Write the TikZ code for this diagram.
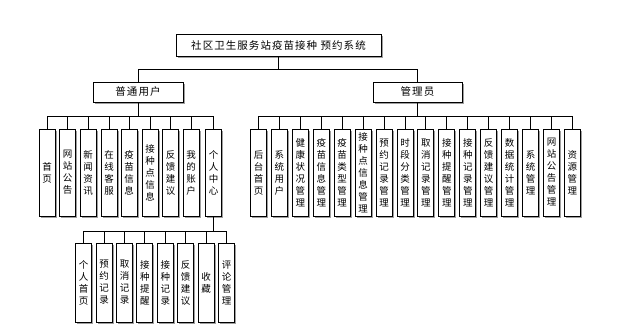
\documentclass[tikz,border=0pt]{standalone}
\usepackage{fontspec}
\newfontfamily\cjk{Noto Sans CJK SC}
\newfontfamily\cjkwide{Noto Sans CJK SC}[LetterSpace=10]
\XeTeXlinebreaklocale "zh"
\XeTeXlinebreakskip=0pt plus 1pt
\usetikzlibrary{shadows}

\begin{document}
\begin{tikzpicture}[
    x=1pt, y=-1pt,
    sysShadowStyle/.style={drop shadow={shadow xshift=1.5pt, shadow yshift=-1.5pt, fill=gray!75, opacity=1}},
    sysBoxStyle/.style={draw, line width=1pt, fill=white, sysShadowStyle, inner sep=0pt,
        minimum height=20pt, font=\cjkwide\fontsize{10.5}{12}\selectfont},
    sysColStyle/.style={draw, line width=1pt, fill=white, sysShadowStyle, inner sep=0pt,
        text width=10pt, align=center, minimum width=16pt, minimum height=87pt,
        font=\cjk\fontsize{9.5}{12}\selectfont},
    sysSubColStyle/.style={sysColStyle, minimum height=79pt},
    sysLinkStyle/.style={line width=1pt}
]
    \useasboundingbox (0,0) rectangle (621,330);

    % --- 顶层 ---
    \node[sysBoxStyle, minimum width=205pt, minimum height=22pt] (sys) at (278.5,45) {社区卫生服务站疫苗接种 预约系统};
    \node[sysBoxStyle, minimum width=90pt] (user) at (138,92) {普通用户};
    \node[sysBoxStyle, minimum width=89pt] (admin) at (417.5,92) {管理员};

    \draw[sysLinkStyle] (sys.south) -- ++(0,13) -| (user.north);
    \draw[sysLinkStyle] (sys.south) -- ++(0,13) -| (admin.north);

    % --- 普通用户 ---
    \foreach \xpos/\lbl [count=\i] in {47/首页, 67.5/网站公告, 88/新闻资讯, 109/在线客服,
        129/疫苗信息, 150/接种点信息, 170.5/反馈建议, 191/我的账户, 213.5/个人中心}
    {
        \node[sysColStyle] (u\i) at (\xpos,172.5) {\lbl};
        \draw[sysLinkStyle] (user.south) -- ++(0,14) -| (u\i.north);
    }

    % --- 管理员 ---
    \foreach \lbl [count=\i] in {后台首页, 系统用户, 健康状况管理, 疫苗信息管理, 疫苗类型管理,
        接种点信息管理, 预约记录管理, 时段分类管理, 取消记录管理, 接种提醒管理,
        接种记录管理, 反馈建议管理, 数据统计管理, 系统管理, 网站公告管理, 资源管理}
    {
        \node[sysColStyle] (a\i) at ({258.5+20.93*(\i-1)},172.5) {\lbl};
        \draw[sysLinkStyle] (admin.south) -- ++(0,14) -| (a\i.north);
    }

    % --- 个人中心 ---
    \foreach \lbl [count=\i] in {个人首页, 预约记录, 取消记录, 接种提醒, 接种记录, 反馈建议, 收藏, 评论管理}
    {
        \node[sysSubColStyle] (p\i) at ({83.7+20.4*(\i-1)},282.5) {\lbl};
        \draw[sysLinkStyle] (u9.south) -- ++(0,14.5) -| (p\i.north);
    }
\end{tikzpicture}
\end{document}
